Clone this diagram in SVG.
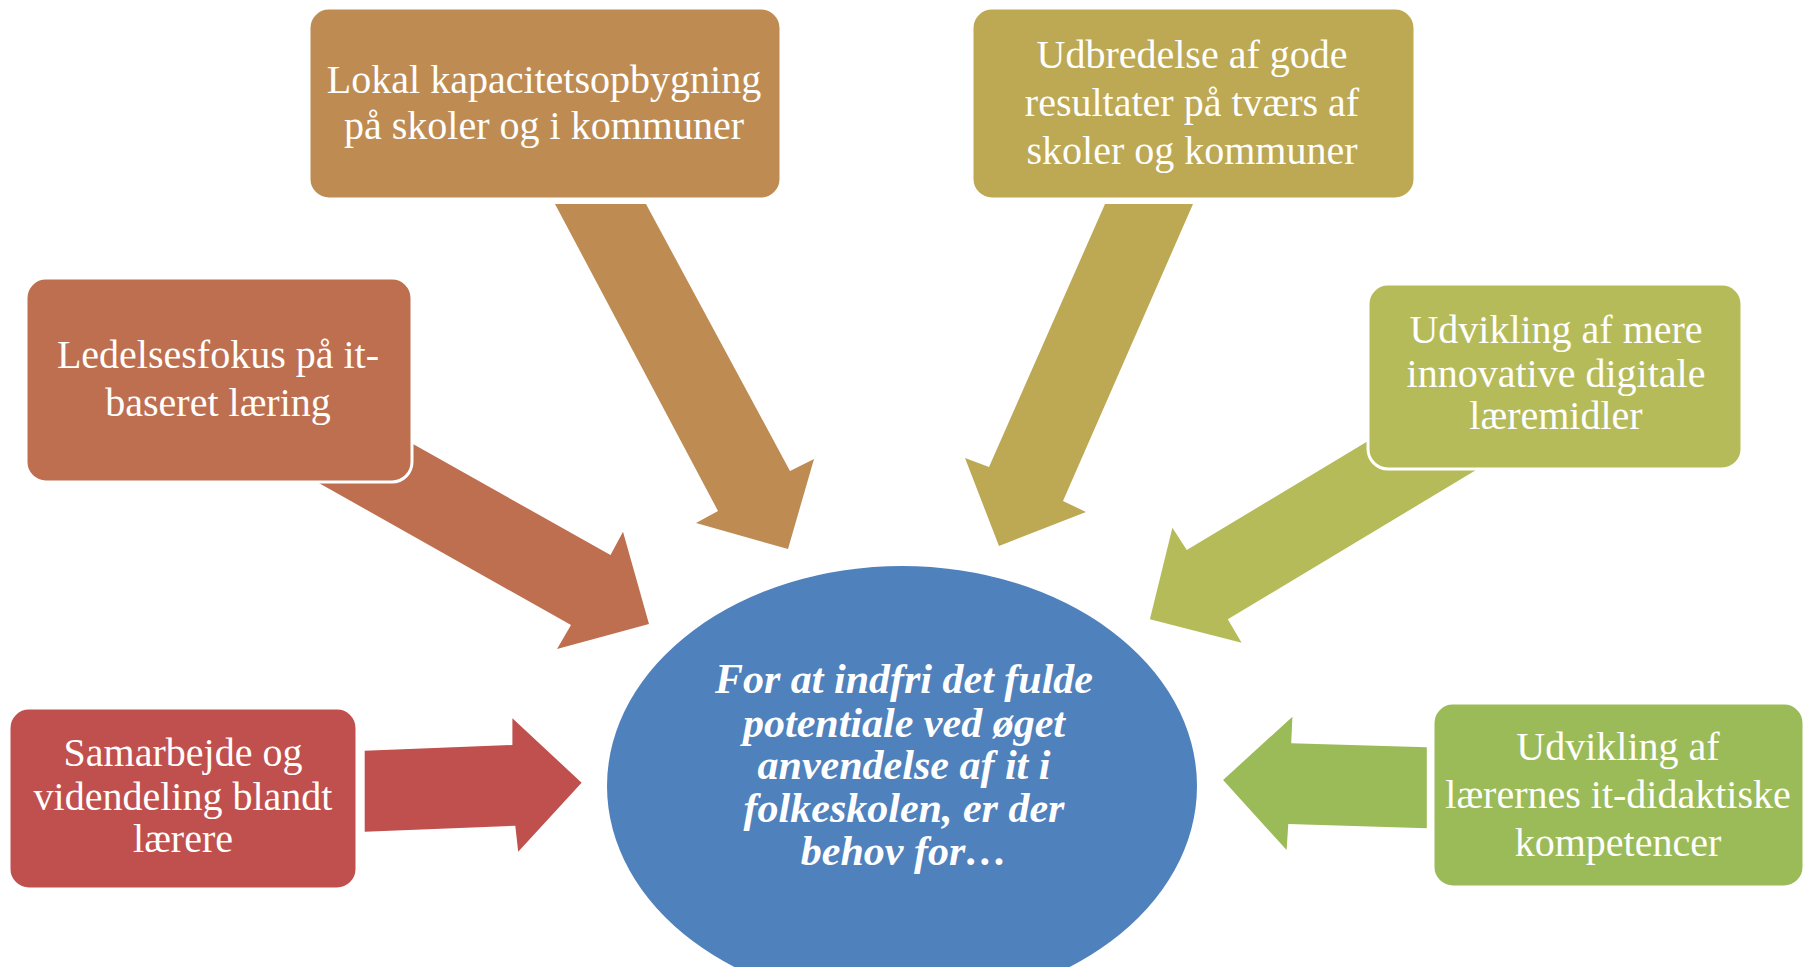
<svg xmlns="http://www.w3.org/2000/svg" width="1806" height="967" viewBox="0 0 1806 967">
<style>
.box{stroke:#FFFFFF;stroke-width:3}
.lbl{font-family:"Liberation Serif","Times New Roman",serif;font-size:40px;fill:#FFFFFF;text-anchor:middle}
.ctr{font-family:"Liberation Serif","Times New Roman",serif;font-size:42px;font-weight:bold;font-style:italic;fill:#FFFFFF;text-anchor:middle}
</style>
<rect width="1806" height="967" fill="#FFFFFF"/>
<g id="connectors">
<polygon fill="#BE8C52" points="555,204 646,204 790,471 814,459 788,549 696,523 718,511"/>
<polygon fill="#BDA854" points="1105,204 1193,204 1063,501 1086,512 999,546 965,458 989,467"/>
<polygon fill="#BE6F50" points="240,438.6 332,398.6 610.5,555 623,531.7 649,624 557,649 571,625"/>
<polygon fill="#B6BB5A" points="1409.6,416 1510.6,449.3 1227.8,619.3 1241.6,642.7 1149.9,619.3 1172.4,527.7 1186.8,550"/>
<polygon fill="#C0504D" points="364.7,750.7 512.4,745 512.4,718.3 581.6,782.7 518.2,851.7 515.3,825.7 364.7,831.7"/>
<polygon fill="#9BBB59" points="1426.8,747.3 1291.2,743.3 1292.4,716.7 1223.1,780 1286.6,850 1288.3,824 1426.8,828.3"/>
</g>
<g id="center">
<ellipse cx="902" cy="786" rx="295" ry="220" fill="#4F81BD"/>
<text class="ctr" x="904" y="693">For at indfri det fulde</text>
<text class="ctr" x="904" y="737">potentiale ved øget</text>
<text class="ctr" x="904" y="779">anvendelse af it i</text>
<text class="ctr" x="904" y="822">folkeskolen, er der</text>
<text class="ctr" x="904" y="865">behov for…</text>
</g>
<g id="node-lokal">
<rect class="box" x="309" y="8" width="472" height="191" rx="20" fill="#BE8C52"/>
<text class="lbl" x="544" y="93">Lokal kapacitetsopbygning</text>
<text class="lbl" x="544" y="139">på skoler og i kommuner</text>
</g>
<g id="node-udbredelse">
<rect class="box" x="972" y="8" width="443" height="191" rx="20" fill="#BDA854"/>
<text class="lbl" x="1192" y="68">Udbredelse af gode</text>
<text class="lbl" x="1192" y="116">resultater på tværs af</text>
<text class="lbl" x="1192" y="164">skoler og kommuner</text>
</g>
<g id="node-ledelse">
<rect class="box" x="26" y="278" width="386" height="204" rx="20" fill="#BE6F50"/>
<text class="lbl" x="218" y="368">Ledelsesfokus på it-</text>
<text class="lbl" x="218" y="416">baseret læring</text>
</g>
<g id="node-laeremidler">
<rect class="box" x="1368" y="284" width="374" height="185" rx="20" fill="#B6BB5A"/>
<text class="lbl" x="1556" y="343">Udvikling af mere</text>
<text class="lbl" x="1556" y="387">innovative digitale</text>
<text class="lbl" x="1556" y="429">læremidler</text>
</g>
<g id="node-samarbejde">
<rect class="box" x="9" y="708" width="348" height="181" rx="20" fill="#C0504D"/>
<text class="lbl" x="183" y="766">Samarbejde og</text>
<text class="lbl" x="183" y="810">videndeling blandt</text>
<text class="lbl" x="183" y="852">lærere</text>
</g>
<g id="node-kompetencer">
<rect class="box" x="1433" y="703" width="371" height="184" rx="20" fill="#9BBB59"/>
<text class="lbl" x="1618" y="760">Udvikling af</text>
<text class="lbl" x="1618" y="808">lærernes it-didaktiske</text>
<text class="lbl" x="1618" y="856">kompetencer</text>
</g>
</svg>
